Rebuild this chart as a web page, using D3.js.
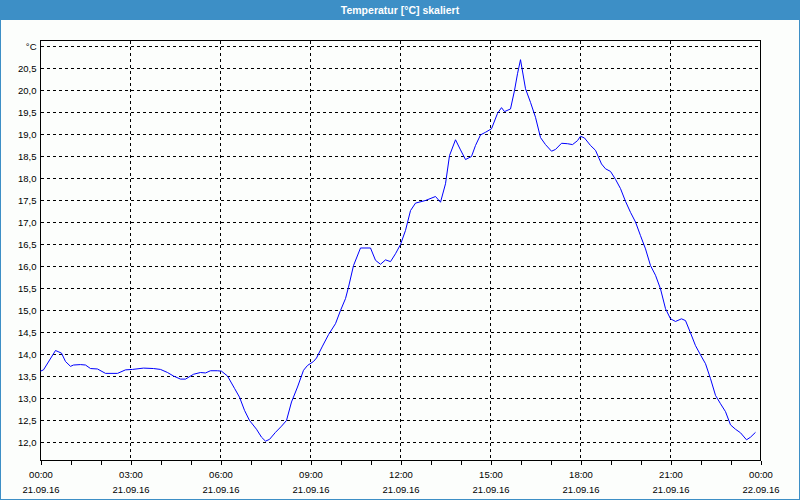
<!DOCTYPE html>
<html>
<head>
<meta charset="utf-8">
<script src="https://cdn.jsdelivr.net/npm/d3@7"></script>
<style>
  body { margin: 0; background: #fcfefc; }
  text { font-family: 'Liberation Sans', Arial, sans-serif; }
</style>
</head>
<body>
<div id="chart"></div>
<script>
const title = 'Temperatur [°C] skaliert';
const unit = '°C';
const day = [2016, 8, 21];

// minutes after 21.09.16 00:00
const minutes = [0, 6, 30, 42, 50, 60, 66, 80, 90, 100, 114, 130, 154, 170, 184, 206, 226, 240, 254, 266,
  280, 290, 306, 320, 330, 340, 354, 362, 374, 388, 398, 408, 418, 432, 442, 450, 458, 470, 482, 492,
  502, 514, 526, 534, 546, 552, 564, 576, 590, 600, 610, 616, 626, 640, 660, 670, 680, 690, 700, 710,
  720, 730, 740, 750, 770, 790, 800, 810, 818, 830, 840, 850, 862, 870, 880, 890, 902, 914, 922, 928,
  940, 948, 954, 960, 970, 980, 990, 1000, 1010, 1022, 1030, 1042, 1054, 1064, 1074, 1080, 1088, 1100, 1110, 1122,
  1130, 1140, 1150, 1160, 1170, 1180, 1190, 1200, 1210, 1220, 1230, 1240, 1250, 1260, 1270, 1282, 1290, 1300, 1310, 1320,
  1330, 1340, 1350, 1360, 1370, 1380, 1390, 1400, 1412, 1420, 1430];
const temps = [13.62, 13.65, 14.09, 14.03, 13.84, 13.73, 13.76, 13.77, 13.76, 13.68, 13.67, 13.57, 13.57, 13.65, 13.66, 13.69, 13.68, 13.66, 13.59, 13.51,
  13.44, 13.44, 13.55, 13.59, 13.58, 13.63, 13.63, 13.62, 13.51, 13.23, 13.03, 12.73, 12.50, 12.30, 12.12, 12.03, 12.07, 12.23, 12.37, 12.50,
  12.92, 13.26, 13.64, 13.75, 13.84, 13.92, 14.19, 14.45, 14.70, 15.00, 15.27, 15.53, 16.02, 16.42, 16.42, 16.14, 16.05, 16.15, 16.11, 16.29,
  16.50, 16.82, 17.27, 17.44, 17.50, 17.59, 17.46, 17.88, 18.52, 18.88, 18.65, 18.43, 18.50, 18.75, 18.99, 19.05, 19.13, 19.48, 19.61, 19.52,
  19.58, 20.00, 20.38, 20.70, 20.04, 19.73, 19.39, 18.93, 18.77, 18.62, 18.66, 18.80, 18.79, 18.77, 18.86, 18.96, 18.92, 18.75, 18.64, 18.33,
  18.22, 18.16, 17.98, 17.77, 17.48, 17.23, 17.01, 16.70, 16.40, 16.02, 15.80, 15.49, 15.04, 14.81, 14.75, 14.81, 14.77, 14.49, 14.20, 13.99,
  13.79, 13.45, 13.07, 12.88, 12.70, 12.40, 12.30, 12.22, 12.06, 12.12, 12.23];

const yTicks = [12.0, 12.5, 13.0, 13.5, 14.0, 14.5, 15.0, 15.5, 16.0, 16.5, 17.0, 17.5, 18.0, 18.5, 19.0, 19.5, 20.0, 20.5];
const yUnitAt = 21.0;
const yDomain = [11.59, 21.136];

const W = 800, H = 500;
const margin = { top: 40, right: 40, bottom: 40, left: 40 };
const width = W - margin.left - margin.right,
  height = H - margin.top - margin.bottom;

const data = minutes.map((m, i) => ({ t: new Date(day[0], day[1], day[2], 0, m), v: temps[i] }));

const svg = d3.select('#chart').append('svg')
  .attr('width', W)
  .attr('height', H);

// frame + title bar
svg.append('rect')
  .attr('x', 0.5).attr('y', 0.5)
  .attr('width', W - 1).attr('height', H - 1)
  .attr('fill', '#fcfefc')
  .attr('stroke', '#3d8fc6');
svg.append('rect')
  .attr('x', 0).attr('y', 0)
  .attr('width', W).attr('height', 20)
  .attr('fill', '#3d8fc6');
svg.append('text')
  .attr('x', W / 2).attr('y', 14)
  .attr('text-anchor', 'middle')
  .attr('fill', '#fff')
  .attr('font-size', '10.5px')
  .attr('font-weight', 'bold')
  .text(title);

const g = svg.append('g')
  .attr('transform', `translate(${margin.left + 0.5}, ${margin.top + 0.5})`);

const t0 = new Date(day[0], day[1], day[2]);
const t1 = d3.timeDay.offset(t0, 1);
const x = d3.scaleTime().domain([t0, t1]).range([0, width]);
const y = d3.scaleLinear().domain(yDomain).range([height, 0]);

const loc = d3.formatLocale({ decimal: ',', thousands: '.', grouping: [3], currency: ['', ''] });
const fmtY = loc.format('.1f');
const fmtTime = d3.timeFormat('%H:%M');
const fmtDate = d3.timeFormat('%d.%m.%y');

// horizontal grid
g.selectAll('.hgrid')
  .data(yTicks.concat([yUnitAt]))
  .enter().append('line')
  .attr('x1', 0).attr('x2', width)
  .attr('y1', d => Math.round(y(d))).attr('y2', d => Math.round(y(d)))
  .attr('stroke', '#000')
  .attr('stroke-dasharray', '3,3')
  .attr('shape-rendering', 'crispEdges');

// vertical grid every 3h
const major = d3.timeHour.every(3).range(t0, t1).slice(1);
g.selectAll('.vgrid')
  .data(major)
  .enter().append('line')
  .attr('x1', d => Math.round(x(d))).attr('x2', d => Math.round(x(d)))
  .attr('y1', 0).attr('y2', height)
  .attr('stroke', '#000')
  .attr('stroke-dasharray', '3,3')
  .attr('shape-rendering', 'crispEdges');

// plot border
g.append('rect')
  .attr('x', 0).attr('y', 0)
  .attr('width', width).attr('height', height)
  .attr('fill', 'none')
  .attr('stroke', '#000')
  .attr('shape-rendering', 'crispEdges');

// minor ticks every hour
const xMinor = g.append('g')
  .attr('transform', `translate(0, ${height})`)
  .call(d3.axisBottom(x).ticks(d3.timeHour.every(1)).tickSize(4).tickFormat(''));
xMinor.select('.domain').remove();
xMinor.selectAll('line').attr('shape-rendering', 'crispEdges');

// major labels: time + date
const xAxis = g.append('g')
  .attr('transform', `translate(0, ${height})`)
  .call(d3.axisBottom(x).ticks(d3.timeHour.every(3)).tickSize(4).tickFormat(''));
xAxis.select('.domain').remove();
xAxis.selectAll('line').attr('shape-rendering', 'crispEdges');
xAxis.selectAll('.tick').append('text')
  .attr('fill', '#000')
  .attr('font-size', '9.5px')
  .attr('text-anchor', 'middle')
  .each(function (d) {
    const t = d3.select(this);
    t.append('tspan').attr('x', 0).attr('y', 17.5).text(fmtTime(d));
    t.append('tspan').attr('x', 0).attr('y', 32.5).text(fmtDate(d));
  });

// y labels
g.selectAll('.ylabel')
  .data(yTicks)
  .enter().append('text')
  .attr('x', -4)
  .attr('y', d => y(d) + 3.5)
  .attr('text-anchor', 'end')
  .attr('font-size', '9.5px')
  .attr('fill', '#000')
  .text(d => fmtY(d));
g.append('text')
  .attr('x', -4)
  .attr('y', y(yUnitAt) + 3.5)
  .attr('text-anchor', 'end')
  .attr('font-size', '9.5px')
  .attr('fill', '#000')
  .text(unit);

// temperature line
const line = d3.line()
  .x(d => x(d.t))
  .y(d => y(d.v));

g.append('path')
  .datum(data)
  .attr('d', line)
  .attr('fill', 'none')
  .attr('stroke', '#0000ff')
  .attr('stroke-width', 1);
</script>
</body>
</html>
